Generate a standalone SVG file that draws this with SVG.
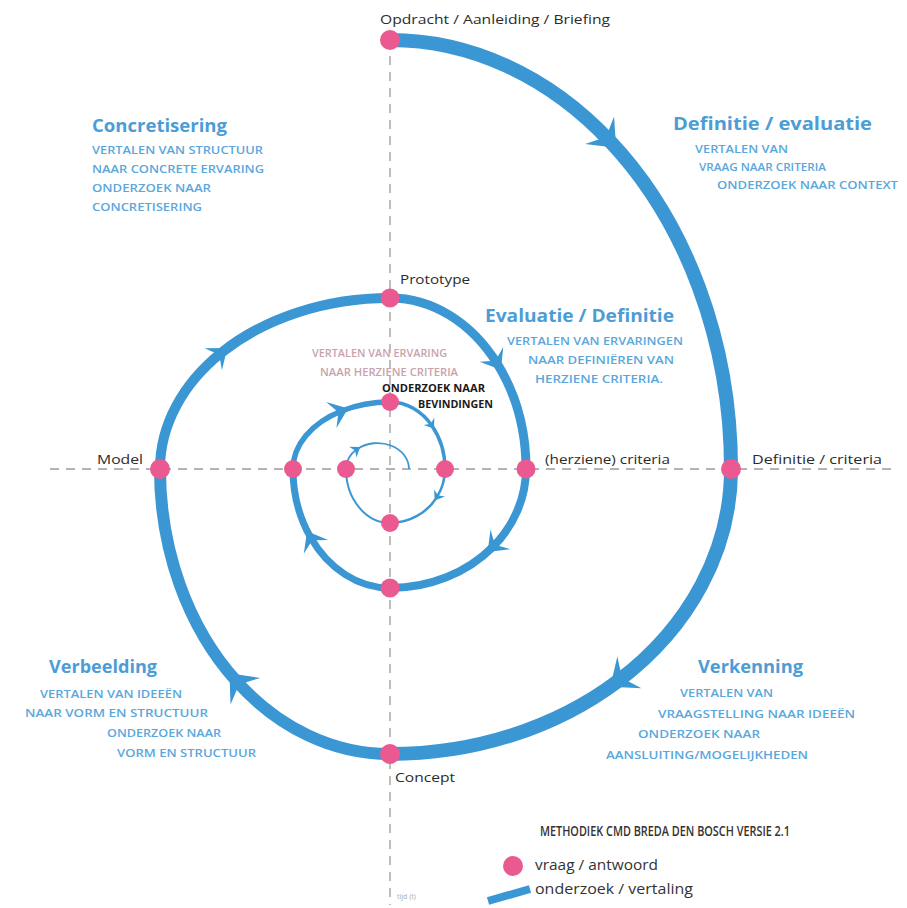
<svg xmlns="http://www.w3.org/2000/svg" width="907" height="908" viewBox="0 0 907 908">
<style>
.axis{stroke:#9a9a9a;stroke-width:1.3;stroke-dasharray:9 7;fill:none}
.sp{fill:none;stroke:#3b97d3;stroke-linecap:butt}
.big{marker-mid:url(#aBig)}
.med{marker-mid:url(#aMed)}
.sml{marker-mid:url(#aSml)}
.dot{fill:#ea5a91}
.lbl{font-family:"Open Sans","Liberation Sans",sans-serif;font-size:13px;fill:#2b2b2b}
.hd{font-family:"Open Sans","Liberation Sans",sans-serif;font-size:18px;font-weight:700;fill:#4c9dd6}
.sub{font-family:"Open Sans","Liberation Sans",sans-serif;font-size:11.5px;font-weight:600;fill:#5aa7dc}
.mv{font-family:"Open Sans","Liberation Sans",sans-serif;font-size:10px;font-weight:600;fill:#c9a3ac}
.bk{font-family:"Open Sans","Liberation Sans",sans-serif;font-size:10px;font-weight:700;fill:#1a1a1a}
.lg{font-family:"Open Sans","Liberation Sans",sans-serif;font-size:14px;fill:#333}
</style>
<defs>
<marker id="aBig" markerUnits="userSpaceOnUse" orient="auto" markerWidth="50" markerHeight="50" viewBox="-25 -25 50 50" refX="0" refY="0" overflow="visible">
<path d="M10,0 L-14,-20 L-7,-5 L-7,5 L-14,20 Z" fill="#3b97d3"/>
</marker>
<marker id="aMed" markerUnits="userSpaceOnUse" orient="auto" markerWidth="34" markerHeight="34" viewBox="-17 -17 34 34" refX="0" refY="0" overflow="visible">
<path d="M7,0 L-11,-14 L-5,-3 L-5,3 L-11,14 Z" fill="#3b97d3"/>
</marker>
<marker id="aSml" markerUnits="userSpaceOnUse" orient="auto" markerWidth="16" markerHeight="16" viewBox="-8 -8 16 16" refX="0" refY="0" overflow="visible">
<path d="M3.5,0 L-5.5,-6.5 L-3,-1 L-3,1 L-5.5,6.5 Z" fill="#3b97d3"/>
</marker>
</defs>
<rect width="907" height="908" fill="#ffffff"/>
<g id="axes">
<line class="axis" x1="390" y1="40" x2="390" y2="905"/>
<line class="axis" x1="50" y1="469" x2="893" y2="469"/>
</g>
<g id="connectors">
<path class="sp big" stroke-width="14" d="M390,40 A341,429 0 0 1 609.2,140.4 A341,429 0 0 1 731,469"/>
<path class="sp big" stroke-width="14" d="M731,469 A341,285 0 0 1 618.2,680.8 A341,285 0 0 1 390,754"/>
<path class="sp big" stroke-width="12" d="M390,754 A230,285 0 0 1 236.1,680.8 A230,285 0 0 1 160,469"/>
<path class="sp med" stroke-width="10" d="M160,469 A230,171 0 0 1 221.8,352.4 A230,171 0 0 1 390,298"/>
<path class="sp med" stroke-width="9" d="M390,298 A136,171 0 0 1 497.2,363.7 A136,171 0 0 1 526,469"/>
<path class="sp med" stroke-width="8" d="M526,469 A136,119 0 0 1 492.6,547.1 A136,119 0 0 1 390,588"/>
<path class="sp med" stroke-width="7" d="M390,588 A97,119 0 0 1 310.5,537.3 A97,119 0 0 1 293,469"/>
<path class="sp med" stroke-width="5.5" d="M293,469 A97,67 0 0 1 341.5,411 A97,67 0 0 1 390,402"/>
<path class="sp sml" stroke-width="3.5" d="M390,402 A55,67 0 0 1 432.1,425.9 A55,67 0 0 1 445,469"/>
<path class="sp sml" stroke-width="2.5" d="M445,469 A55,54 0 0 1 436.6,497.6 A55,54 0 0 1 390,523"/>
<path class="sp" stroke-width="2" d="M390,523 A44,54 0 0 1 346,469"/>
<path class="sp sml" stroke-width="1.8" d="M346,469 A31.5,26 0 0 1 357.3,449.1 A31.5,26 0 0 1 409,469"/>
</g>
<g id="node-opdracht"><circle class="dot" cx="390" cy="40" r="10"/><text class="lbl" x="380" y="24" font-size="14.5" textLength="230" lengthAdjust="spacingAndGlyphs">Opdracht / Aanleiding / Briefing</text></g>
<g id="node-definitie-criteria"><circle class="dot" cx="731" cy="469" r="10"/><text class="lbl" x="752" y="464" textLength="130" lengthAdjust="spacingAndGlyphs">Definitie / criteria</text></g>
<g id="node-concept"><circle class="dot" cx="390" cy="754" r="10"/><text class="lbl" x="395" y="782" textLength="60" lengthAdjust="spacingAndGlyphs">Concept</text></g>
<g id="node-model"><circle class="dot" cx="160" cy="469" r="10"/><text class="lbl" x="97" y="464" textLength="46" lengthAdjust="spacingAndGlyphs">Model</text></g>
<g id="node-prototype"><circle class="dot" cx="390" cy="298" r="9.5"/><text class="lbl" x="400" y="284" textLength="70" lengthAdjust="spacingAndGlyphs">Prototype</text></g>
<g id="node-herziene-criteria"><circle class="dot" cx="526" cy="469" r="9.5"/><text class="lbl" x="545" y="464" textLength="125" lengthAdjust="spacingAndGlyphs">(herziene) criteria</text></g>
<g id="node-b2"><circle class="dot" cx="390" cy="588" r="9.5"/></g>
<g id="node-l2"><circle class="dot" cx="293" cy="469" r="9"/></g>
<g id="node-t3"><circle class="dot" cx="390" cy="402" r="9"/></g>
<g id="node-r3"><circle class="dot" cx="445" cy="469" r="9"/></g>
<g id="node-b3"><circle class="dot" cx="390" cy="523" r="9"/></g>
<g id="node-l3"><circle class="dot" cx="346" cy="469" r="9"/></g>
<g id="text-concretisering">
<text class="hd" x="92" y="132" textLength="135" lengthAdjust="spacingAndGlyphs">Concretisering</text>
<text class="sub" x="92" y="154" textLength="171" lengthAdjust="spacingAndGlyphs">VERTALEN VAN STRUCTUUR</text>
<text class="sub" x="92" y="173" textLength="172" lengthAdjust="spacingAndGlyphs">NAAR CONCRETE ERVARING</text>
<text class="sub" x="92" y="192" textLength="119" lengthAdjust="spacingAndGlyphs">ONDERZOEK NAAR</text>
<text class="sub" x="92" y="211" textLength="110" lengthAdjust="spacingAndGlyphs">CONCRETISERING</text>
</g>
<g id="text-definitie-evaluatie">
<text class="hd" x="673" y="130" textLength="199" lengthAdjust="spacingAndGlyphs">Definitie / evaluatie</text>
<text class="sub" x="695" y="153" textLength="93" lengthAdjust="spacingAndGlyphs">VERTALEN VAN</text>
<text class="sub" x="699" y="171" textLength="127" lengthAdjust="spacingAndGlyphs">VRAAG NAAR CRITERIA</text>
<text class="sub" x="717" y="189" textLength="181" lengthAdjust="spacingAndGlyphs">ONDERZOEK NAAR CONTEXT</text>
</g>
<g id="text-evaluatie-definitie">
<text class="hd" x="485" y="322" textLength="189" lengthAdjust="spacingAndGlyphs">Evaluatie / Definitie</text>
<text class="sub" x="507" y="345" textLength="176" lengthAdjust="spacingAndGlyphs">VERTALEN VAN ERVARINGEN</text>
<text class="sub" x="528" y="364" textLength="146" lengthAdjust="spacingAndGlyphs">NAAR DEFINIËREN VAN</text>
<text class="sub" x="535" y="383" textLength="128" lengthAdjust="spacingAndGlyphs">HERZIENE CRITERIA.</text>
</g>
<g id="text-inner">
<text class="mv" x="312" y="357" textLength="135" lengthAdjust="spacingAndGlyphs">VERTALEN VAN ERVARING</text>
<text class="mv" x="320" y="376" textLength="138" lengthAdjust="spacingAndGlyphs">NAAR HERZIENE CRITERIA</text>
<text class="bk" x="382" y="392" textLength="103" lengthAdjust="spacingAndGlyphs">ONDERZOEK NAAR</text>
<text class="bk" x="418" y="408" textLength="75" lengthAdjust="spacingAndGlyphs">BEVINDINGEN</text>
</g>
<g id="text-verbeelding">
<text class="hd" x="49" y="673" textLength="108" lengthAdjust="spacingAndGlyphs">Verbeelding</text>
<text class="sub" x="40" y="698" textLength="142" lengthAdjust="spacingAndGlyphs">VERTALEN VAN IDEEËN</text>
<text class="sub" x="25" y="717" textLength="183" lengthAdjust="spacingAndGlyphs">NAAR VORM EN STRUCTUUR</text>
<text class="sub" x="107" y="737" textLength="114" lengthAdjust="spacingAndGlyphs">ONDERZOEK NAAR</text>
<text class="sub" x="117" y="757" textLength="139" lengthAdjust="spacingAndGlyphs">VORM EN STRUCTUUR</text>
</g>
<g id="text-verkenning">
<text class="hd" x="698" y="673" textLength="105" lengthAdjust="spacingAndGlyphs">Verkenning</text>
<text class="sub" x="680" y="697" textLength="93" lengthAdjust="spacingAndGlyphs">VERTALEN VAN</text>
<text class="sub" x="658" y="718" textLength="197" lengthAdjust="spacingAndGlyphs">VRAAGSTELLING NAAR IDEEËN</text>
<text class="sub" x="638" y="738" textLength="122" lengthAdjust="spacingAndGlyphs">ONDERZOEK NAAR</text>
<text class="sub" x="606" y="759" textLength="202" lengthAdjust="spacingAndGlyphs">AANSLUITING/MOGELIJKHEDEN</text>
</g>
<g id="legend">
<text class="lg" x="540" y="836" font-size="10" font-weight="600" textLength="250" lengthAdjust="spacingAndGlyphs">METHODIEK CMD BREDA DEN BOSCH VERSIE 2.1</text>
<circle class="dot" cx="513" cy="866" r="10"/>
<text class="lg" x="535" y="870" textLength="123" lengthAdjust="spacingAndGlyphs">vraag / antwoord</text>
<line x1="488" y1="901" x2="530" y2="889" stroke="#3b97d3" stroke-width="8"/>
<text class="lg" x="535" y="894" textLength="158" lengthAdjust="spacingAndGlyphs">onderzoek / vertaling</text>
<text x="397" y="899" font-family="'Open Sans','Liberation Sans',sans-serif" font-size="7" fill="#aaaaaa">tijd (t)</text>
</g>
</svg>
